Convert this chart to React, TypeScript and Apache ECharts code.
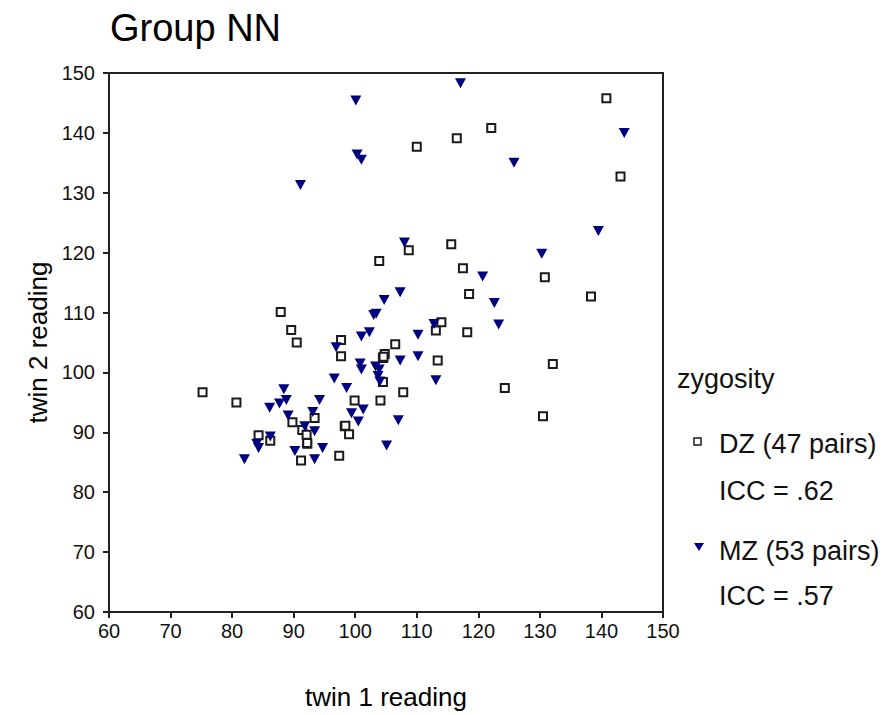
import React, { useEffect, useRef } from "react";
import * as echarts from "echarts";

const titleText = "Group NN";
const xName = "twin 1 reading";
const yName = "twin 2 reading";
const legendTitle = "zygosity";
const dzName = "DZ (47 pairs)";
const mzName = "MZ (53 pairs)";
const dzIcc = "ICC = .62";
const mzIcc = "ICC = .57";

const dzX = [140.8, 122.1, 116.5, 110.0, 143.1, 108.7, 115.6, 103.9, 117.5, 130.8, 118.5, 138.3, 87.9, 89.6, 90.5, 97.7, 97.7, 114.0, 113.1, 118.2, 106.5, 104.8, 104.5, 113.4, 132.1, 104.5, 124.3, 107.8, 75.2, 80.7, 99.9, 104.1, 130.5, 89.8, 93.4, 98.3, 99.0, 91.4, 92.1, 92.2, 84.3, 86.2, 91.2, 97.4, 92.2, 104.6, 98.4];
const dzY = [145.8, 140.8, 139.1, 137.7, 132.7, 120.4, 121.4, 118.6, 117.4, 115.9, 113.1, 112.7, 110.1, 107.1, 105.0, 105.4, 102.7, 108.4, 107.0, 106.7, 104.7, 103.1, 102.4, 102.0, 101.4, 98.4, 97.4, 96.7, 96.7, 95.0, 95.3, 95.3, 92.7, 91.7, 92.4, 91.0, 89.7, 90.4, 89.6, 88.1, 89.5, 88.6, 85.3, 86.1, 88.2, 102.6, 91.1];

const mzX = [117.1, 100.1, 143.7, 100.3, 101.0, 125.8, 91.1, 139.5, 108.0, 130.3, 120.7, 122.6, 123.3, 107.3, 104.7, 103.0, 103.4, 102.3, 101.0, 112.8, 110.2, 96.9, 100.8, 101.0, 103.3, 103.9, 103.7, 104.0, 107.3, 110.2, 113.1, 96.6, 98.6, 99.4, 101.3, 100.5, 107.0, 105.1, 88.4, 88.8, 87.7, 86.1, 89.1, 94.2, 93.1, 91.8, 93.4, 84.0, 84.3, 86.2, 94.7, 90.2, 93.4, 82.0];
const mzY = [148.3, 145.4, 140.0, 136.4, 135.5, 135.0, 131.3, 123.6, 121.7, 119.8, 116.0, 111.6, 108.0, 113.4, 112.1, 109.6, 109.8, 106.7, 106.0, 108.1, 106.3, 104.2, 101.5, 100.5, 101.0, 100.5, 99.4, 98.5, 102.0, 102.7, 98.7, 99.0, 97.4, 93.2, 93.8, 91.8, 92.0, 87.8, 97.2, 95.4, 94.8, 94.1, 92.8, 95.4, 93.4, 91.0, 90.2, 88.1, 87.4, 89.3, 87.4, 86.9, 85.5, 85.5];

const axisMin = 60;
const axisMax = 150;
const axisStep = 10;

const FONT = "'Liberation Sans', Arial, sans-serif";

export default function App() {
  const ref = useRef<HTMLDivElement>(null);
  useEffect(() => {
    if (!ref.current) return;
    const chart = echarts.init(ref.current, null, { renderer: "svg" });
    const gl = 109, gt = 73, gw = 554, gh = 540;
    chart.setOption({
      animation: false,
      backgroundColor: "#ffffff",
      textStyle: { fontFamily: FONT },
      title: {
        text: titleText,
        left: 105,
        top: 4,
        textStyle: { fontSize: 38, fontWeight: "normal", color: "#000", fontFamily: FONT },
      },
      grid: {
        left: gl,
        top: gt,
        width: gw,
        height: gh,
        show: true,
        borderColor: "#222",
        borderWidth: 2,
        backgroundColor: "transparent",
      },
      xAxis: {
        type: "value",
        min: axisMin,
        max: axisMax,
        interval: axisStep,
        name: xName,
        nameLocation: "middle",
        nameGap: 72,
        nameTextStyle: { fontSize: 26, color: "#000", fontFamily: FONT },
        axisLine: { show: true, onZero: false, lineStyle: { color: "#222", width: 2 } },
        axisTick: { show: true, length: 6, lineStyle: { color: "#222", width: 2 } },
        axisLabel: { margin: 9, fontSize: 20, color: "#111", fontFamily: FONT },
        splitLine: { show: false },
      },
      yAxis: {
        type: "value",
        min: axisMin,
        max: axisMax,
        interval: axisStep,
        name: yName,
        nameLocation: "middle",
        nameGap: 58,
        nameTextStyle: { fontSize: 26, color: "#000", fontFamily: FONT },
        axisLine: { show: true, onZero: false, lineStyle: { color: "#222", width: 2 } },
        axisTick: { show: true, length: 6, lineStyle: { color: "#222", width: 2 } },
        axisLabel: { margin: 14, fontSize: 20, color: "#111", fontFamily: FONT },
        splitLine: { show: false },
      },
      series: [
        {
          name: dzName,
          type: "scatter",
          symbol: "rect",
          symbolSize: 8,
          itemStyle: { color: "#ffffff", borderColor: "#1a1a1a", borderWidth: 2, opacity: 1 },
          data: dzX.map((x, i) => [x, dzY[i]]),
        },
        {
          name: mzName,
          type: "scatter",
          symbol: "triangle",
          symbolRotate: 180,
          symbolSize: [11, 10],
          itemStyle: { color: "#00007f", opacity: 1 },
          data: mzX.map((x, i) => [x, mzY[i]]),
        },
      ],
      graphic: [
        { type: "text", left: 677, top: 365, style: { text: legendTitle, font: `27px ${FONT}`, fill: "#111" } },
        { type: "rect", shape: { x: 694, y: 438, width: 7, height: 7 }, style: { fill: "#fff", stroke: "#1a1a1a", lineWidth: 1.5 } },
        { type: "text", left: 719, top: 430, style: { text: dzName, font: `27px ${FONT}`, fill: "#111" } },
        { type: "text", left: 719, top: 477, style: { text: dzIcc, font: `27px ${FONT}`, fill: "#111" } },
        { type: "polygon", shape: { points: [[694, 543], [704, 543], [699, 551]] }, style: { fill: "#00007f" } },
        { type: "text", left: 719, top: 537, style: { text: mzName, font: `27px ${FONT}`, fill: "#111" } },
        { type: "text", left: 719, top: 582, style: { text: mzIcc, font: `27px ${FONT}`, fill: "#111" } },
      ],
    });
    return () => chart.dispose();
  }, []);
  return (
    <div
      ref={ref}
      style={{ position: "fixed", left: 0, top: 0, width: 889, height: 715, background: "#fff" }}
    />
  );
}
